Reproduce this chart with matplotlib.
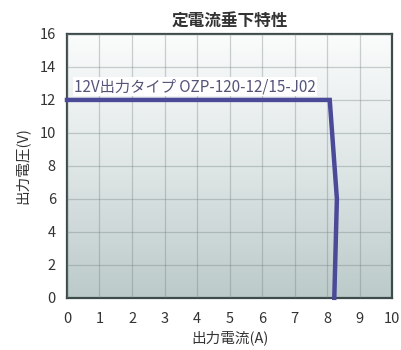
import numpy as np
import matplotlib.pyplot as plt
from matplotlib.colors import LinearSegmentedColormap

plt.rcParams['font.family'] = ['Noto Sans CJK JP', 'DejaVu Sans']

# 定電流垂下特性 (12V)
current = [0, 8.08, 8.3, 8.22]
voltage = [12, 12, 6, 0]
label = "12V出力タイプ OZP-120-12/15-J02"

fig = plt.figure(figsize=(4.01, 3.5), dpi=100)
ax = fig.add_axes([0.167, 0.149, 0.811, 0.754])

cmap = LinearSegmentedColormap.from_list("bg", ["#bccaca", "#dfe6e6", "#fbfcfc"])
grad = np.linspace(0, 1, 256).reshape(-1, 1)
ax.imshow(grad, extent=[0, 10, 0, 16], origin="lower", aspect="auto",
          cmap=cmap, zorder=0)

ax.set_xlim(0, 10)
ax.set_ylim(0, 16)
ax.set_xticks(range(0, 11))
ax.set_yticks(range(0, 17, 2))
ax.grid(True, color="#6f7d7d", alpha=0.35, linewidth=0.9, zorder=1)
ax.set_axisbelow(False)

ax.plot(current, voltage, color="#4b4a98", linewidth=3.2,
        solid_joinstyle="miter", zorder=3, clip_on=False)

ax.text(0.22, 12.8, label, fontsize=11, color="#55557a", va="center",
        zorder=4, bbox=dict(facecolor="white", edgecolor="none", pad=0.5))

for s in ax.spines.values():
    s.set_color("#3d4a4a")
    s.set_linewidth(1.6)
ax.tick_params(length=0, labelsize=10.5, colors="#333333")
ax.tick_params(axis="x", pad=10)
ax.tick_params(axis="y", pad=8)

ax.set_title("定電流垂下特性", fontsize=12, fontweight="bold", color="#333333", pad=5)
ax.set_xlabel("出力電流(A)", fontsize=10.5, color="#333333", labelpad=3)
ax.set_ylabel("出力電圧(V)", fontsize=10.5, color="#333333", labelpad=7)

fig.savefig("out.png", dpi=100)
